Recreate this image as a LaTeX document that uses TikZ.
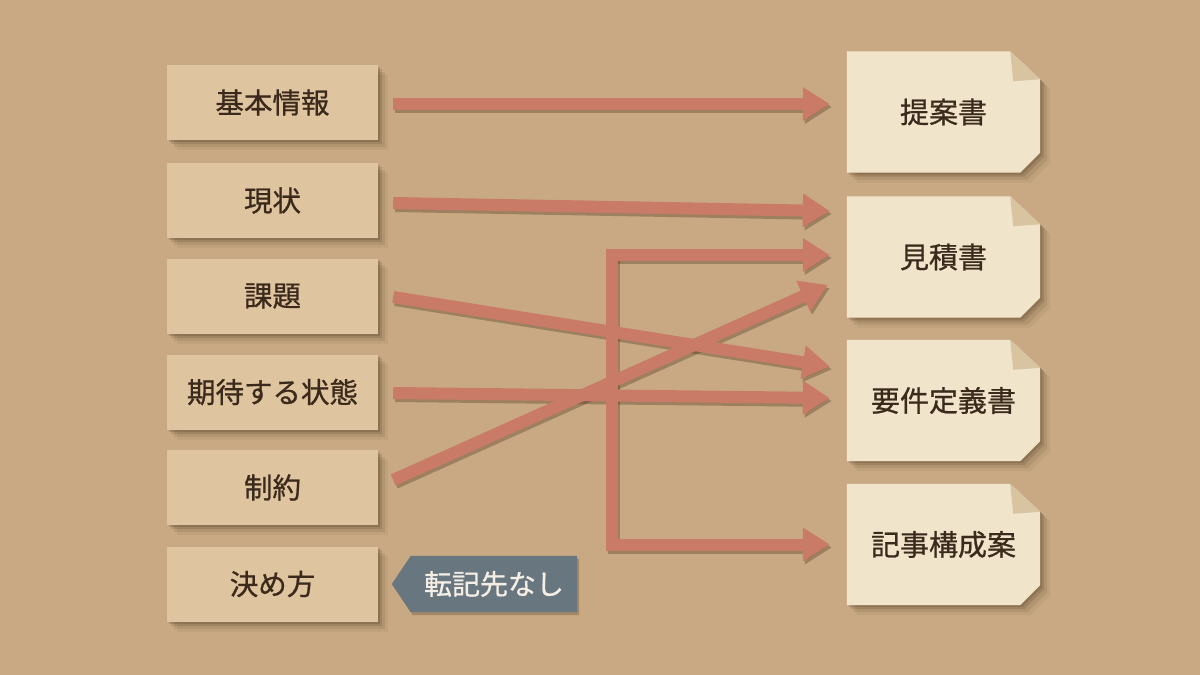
\documentclass[tikz,border=0pt]{standalone}
\usepackage{fontspec}
\setmainfont{Noto Sans CJK JP}[FakeBold=0.8]
\newfontfamily\medfont{Noto Sans CJK JP}[FakeBold=0.8]
\usetikzlibrary{arrows.meta,calc}
\definecolor{bgc}{HTML}{C8A983}
\definecolor{boxc}{HTML}{DEC49F}
\definecolor{docc}{HTML}{F0E5CB}
\definecolor{foldc}{HTML}{D9C4A1}
\definecolor{arrc}{HTML}{C97B67}
\definecolor{txtc}{HTML}{3B2A1C}
\definecolor{tagc}{HTML}{687680}
\definecolor{tagtxt}{HTML}{F4EEE4}
\definecolor{shc}{HTML}{3A2410}
\pgfdeclarelayer{bg}\pgfdeclarelayer{shad}\pgfdeclarelayer{paper}
\pgfsetlayers{bg,shad,paper,main}
\newcommand\myarrow[2][]{%
  \begin{pgfonlayer}{shad}\draw[arr,#1,draw=shc,opacity=.3,transform canvas={xshift=2pt,yshift=-3pt}] #2;\end{pgfonlayer}
  \draw[arr,#1] #2;}
\newcommand\docpaper[1]{%
  \begin{pgfonlayer}{shad}
    \foreach \o/\op in {2/.16,4/.14,7/.1,10/.06}{
    \fill[shc,opacity=\op,transform canvas={xshift=\o pt,yshift=-\o pt}] (#1.north west) -- ([xshift=-30pt]#1.north east) -- ([yshift=-28pt]#1.north east) -- ([yshift=20pt]#1.south east) -- ([xshift=-20pt]#1.south east) -- (#1.south west) -- cycle;}
  \end{pgfonlayer}
  \begin{pgfonlayer}{paper}
    \fill[docc] (#1.north west) -- ([xshift=-30pt]#1.north east) -- ([yshift=-28pt]#1.north east) -- ([yshift=20pt]#1.south east) -- ([xshift=-20pt]#1.south east) -- (#1.south west) -- cycle;
    \fill[foldc] ([xshift=-30pt]#1.north east) -- ([yshift=-28pt]#1.north east) -- ([shift={(-27pt,-30pt)}]#1.north east) -- cycle;
  \end{pgfonlayer}}
\newcommand\boxshadow[1]{%
  \begin{pgfonlayer}{shad}
    \foreach \o/\op in {2/.18,4/.14,7/.1,10/.06}{
    \fill[shc,opacity=\op,transform canvas={xshift=\o pt,yshift=-\o pt}] (#1.north west) rectangle (#1.south east);}
  \end{pgfonlayer}}
\begin{document}
\begin{tikzpicture}[x=1pt,y=-1pt,
  srcbox/.style={fill=boxc, minimum width=211pt, minimum height=75pt, inner sep=0pt, text=txtc, font=\medfont\fontsize{28.5}{32}\selectfont},
  docbox/.style={minimum width=193pt, minimum height=121pt, inner sep=0pt, text=txtc, font=\medfont\fontsize{29}{33}\selectfont},
  arr/.style={draw=arrc, line width=12pt, -{Triangle[length=27pt,width=32pt]}},
  tagbox/.style={minimum width=166pt, minimum height=56pt, inner sep=0pt, text=tagtxt, font=\medfont\fontsize{28}{32}\selectfont}
]
\begin{pgfonlayer}{bg}
  \fill[bgc] (0,0) rectangle (1200,675);
\end{pgfonlayer}
\useasboundingbox (0,0) rectangle (1200,675);

% source boxes
\node[srcbox] (b1) at (272.5,102.5) {基本情報};
\node[srcbox] (b2) at (272.5,200.5) {現状};
\node[srcbox] (b3) at (272.5,296) {課題};
\node[srcbox] (b4) at (272.5,392) {期待する状態};
\node[srcbox] (b5) at (272.5,487.5) {制約};
\node[srcbox] (b6) at (272.5,584) {決め方};
\foreach \n in {b1,b2,b3,b4,b5,b6}{\boxshadow{\n}}

% documents
\node[docbox] (d1) at (943.5,112) {提案書};
\node[docbox] (d2) at (943.5,257) {見積書};
\node[docbox] (d3) at (943.5,400.5) {要件定義書};
\node[docbox] (d4) at (943.5,544.5) {記事構成案};
\foreach \n in {d1,d2,d3,d4}{\docpaper{\n}}

% arrows
\myarrow{([shift={(15pt,-1.5pt)}]b1.east) -- ([shift={(-17pt,8pt)}]d1.west)}
\myarrow{([shift={(15pt,-2.5pt)}]b2.east) -- ([shift={(-17pt,46pt)}]d2.west)}
\myarrow{([shift={(15pt,-1pt)}]b3.east) -- ([shift={(-17pt,34pt)}]d3.west)}
\myarrow{([shift={(15pt,-1pt)}]b4.east) -- ([shift={(-17pt,2.5pt)}]d3.west)}
\coordinate (j) at (612,255);
\coordinate (t4) at ([xshift=-17pt]d4.west);
\myarrow[line cap=rect]{(j) -- ([shift={(-17pt,2pt)}]d2.west)}
\myarrow[line join=miter]{(j) -- (j |- t4) -- (t4)}
\myarrow{([shift={(15pt,7.5pt)}]b5.east) -- ([shift={(-19pt,-28pt)}]d2.west)}

% tag
\node[tagbox] (tag) at (494,584) {転記先なし};
\begin{pgfonlayer}{shad}
  \fill[shc,opacity=.25,transform canvas={xshift=2pt,yshift=-3pt}] (tag.north west) -- (tag.north east) -- (tag.south east) -- (tag.south west) -- ([xshift=-19pt]tag.west) -- cycle;
\end{pgfonlayer}
\begin{pgfonlayer}{paper}
  \fill[tagc] (tag.north west) -- (tag.north east) -- (tag.south east) -- (tag.south west) -- ([xshift=-19pt]tag.west) -- cycle;
\end{pgfonlayer}
\end{tikzpicture}
\end{document}
